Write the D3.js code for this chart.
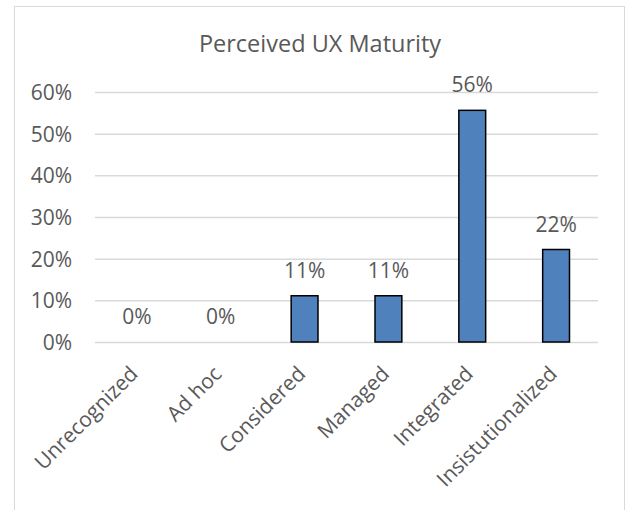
<!DOCTYPE html>
<html><head><meta charset="utf-8">
<script src="https://cdn.jsdelivr.net/npm/d3@7"></script>
<style>html,body{margin:0;padding:0;background:#fff;}svg{display:block;}</style>
</head><body>
<script>
const categories = ["Unrecognized","Ad hoc","Considered","Managed","Integrated","Insistutionalized"];
const values = [0, 0, 0.111, 0.111, 0.556, 0.222];
const yTicks = [0, 0.1, 0.2, 0.3, 0.4, 0.5, 0.6];
const title = "Perceived UX Maturity";

(function () {
const W = 628, H = 510;
const svg = d3.select("body").append("svg").attr("width", W).attr("height", H);
svg.append("rect").attr("x", 14.5).attr("y", 6.5).attr("width", 610).attr("height", 520)
  .attr("fill", "#fff").attr("stroke", "#d9d9d9").attr("stroke-width", 1);

const pl = 95, pr = 598, pt = 92, pb = 342;
const x = d3.scaleBand().domain(categories).range([pl, pr]).paddingInner(0.68).paddingOuter(0.34);
const y = d3.scaleLinear().domain([0, 0.6]).range([pb, pt]);
const font = "'Open Sans', sans-serif";
const col = "#595959";

svg.append("text").attr("x", 320).attr("y", 52).attr("text-anchor", "middle")
  .attr("font-family", font).attr("font-size", 23.5).attr("fill", col).text(title);

const yAxis = d3.axisLeft(y).tickValues(yTicks).tickFormat(d3.format(".0%")).tickSize(-(pr - pl)).tickPadding(23);
const ga = svg.append("g").attr("transform", `translate(${pl},0)`).call(yAxis);
ga.select(".domain").remove();
ga.selectAll(".tick line").attr("stroke", "#d9d9d9").attr("stroke-width", 1.5);
ga.selectAll(".tick text").attr("font-family", font).attr("font-size", 21).attr("fill", col).attr("dy", "0.35em");

svg.selectAll("rect.bar").data(values).join("rect").attr("class", "bar")
  .attr("x", (d, i) => x(categories[i])).attr("width", x.bandwidth())
  .attr("y", d => y(d)).attr("height", d => y(0) - y(d))
  .attr("fill", "#4f81bd").attr("stroke", "#000").attr("stroke-width", 1.5);

svg.selectAll("text.lbl").data(values).join("text").attr("class", "lbl")
  .attr("x", (d, i) => x(categories[i]) + x.bandwidth() / 2)
  .attr("y", d => y(d) - 18).attr("text-anchor", "middle")
  .attr("font-family", font).attr("font-size", 21).attr("fill", col)
  .text(d => d3.format(".0%")(d));

svg.selectAll("text.cat").data(categories).join("text").attr("class", "cat")
  .attr("transform", d => `translate(${x(d) + x.bandwidth() / 2 - 3},${pb + 28}) rotate(-45)`)
  .attr("text-anchor", "end").attr("dy", "0.35em")
  .attr("font-family", font).attr("font-size", 21).attr("fill", col).text(d => d);
})();
</script>
</body></html>
